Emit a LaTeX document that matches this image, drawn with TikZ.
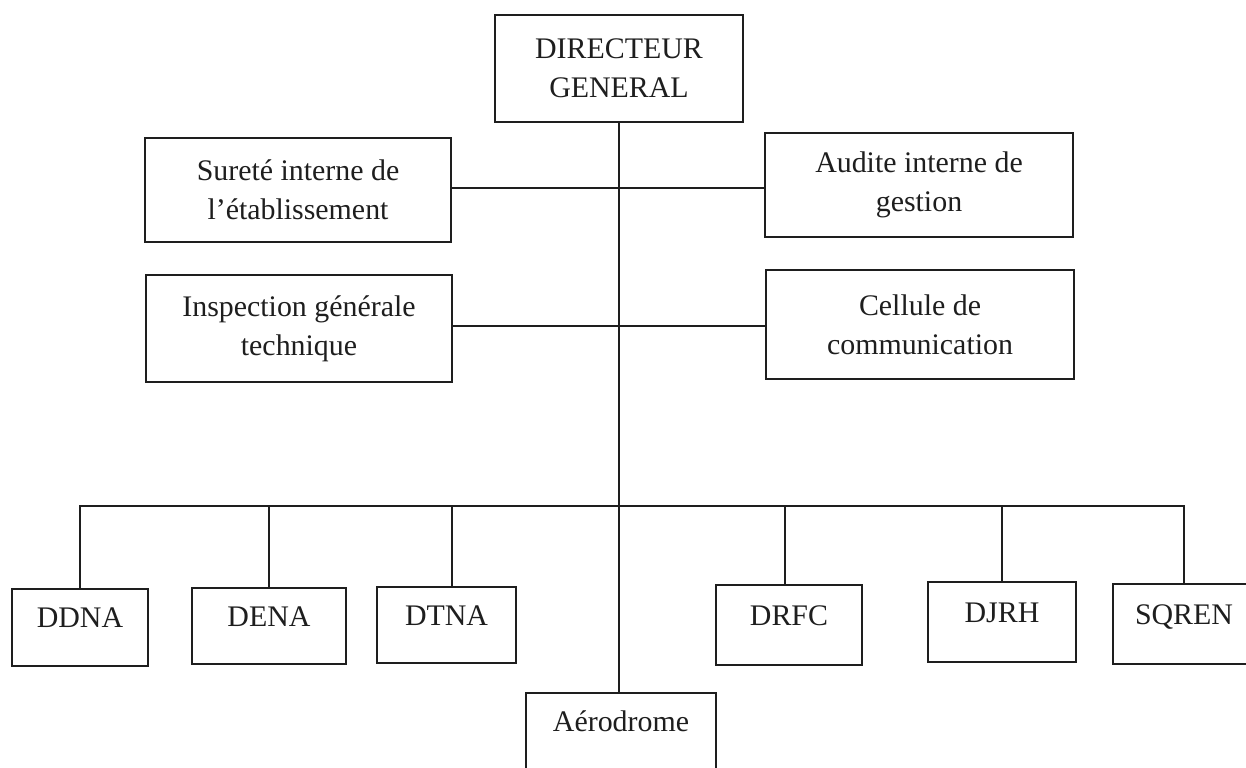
\documentclass[tikz,border=0pt]{standalone}
\usepackage{fontspec}
\setmainfont{Liberation Serif}
\definecolor{ink}{HTML}{1E1E1E}
\begin{document}
\begin{tikzpicture}[x=0.5bp,y=-0.5bp,
  box/.style={draw=ink, line width=1.2bp, inner sep=0pt, align=center,
              font=\fontsize{15}{19.5}\selectfont, text=ink},
  unitbox/.style={box, text height=#1, text depth=#1},
  link/.style={draw=ink, line width=1bp}]
  \path[use as bounding box] (0,0) rectangle (1246,767);
  \clip (0,0) rectangle (1246,767);

  % head of the organisation
  \node[box, minimum width=124bp, minimum height=53.5bp] (dg) at (619,68.5)
    {DIRECTEUR\\GENERAL};

  % staff units attached to the trunk
  \node[box, minimum width=153bp, minimum height=52bp] (surete) at (298,190)
    {Sureté interne de\\l'établissement};
  \node[box, minimum width=154bp, minimum height=52bp] (audit) at (919,185)
    {Audite interne de\\gestion};
  \node[box, minimum width=153bp, minimum height=53.5bp] (inspect) at (299,328.5)
    {Inspection générale\\technique};
  \node[box, minimum width=154bp, minimum height=54.5bp] (cellule) at (920,324.5)
    {Cellule de\\communication};

  % directorates
  \node[unitbox=19.25bp, minimum width=68bp] (ddna) at (80,627.5) {DDNA};
  \node[unitbox=19bp, minimum width=77bp] (dena) at (269,626) {DENA};
  \node[unitbox=19bp, minimum width=69.5bp] (dtna) at (446.5,625) {DTNA};
  \node[unitbox=19.25bp, minimum width=95bp] (aero) at (621,731.5) {Aérodrome};
  \node[unitbox=20bp, minimum width=73bp] (drfc) at (789,625) {DRFC};
  \node[unitbox=20bp, minimum width=74bp] (djrh) at (1002,622) {DJRH};
  \node[unitbox=20bp, minimum width=71bp] (sqren) at (1184,624) {SQREN};

  % trunk and branch points
  \coordinate (up) at (619,188);
  \coordinate (mid) at (619,326);
  \coordinate (bus) at (619,506);
  \path[link] (dg.south) -- (dg.south |- aero.north);
  \path[link] (surete.east |- up) -- (audit.west |- up);
  \path[link] (inspect.east |- mid) -- (cellule.west |- mid);

  % distribution bus to the directorates
  \path[link] (ddna.north) |- (bus) -| (sqren.north);
  \path[link] (dena.north) -- (dena.north |- bus);
  \path[link] ([xshift=2.75bp]dtna.north) coordinate (t3) -- (t3 |- bus);
  \path[link] ([xshift=-2bp]drfc.north) coordinate (t5) -- (t5 |- bus);
  \path[link] (djrh.north) -- (djrh.north |- bus);
\end{tikzpicture}
\end{document}
